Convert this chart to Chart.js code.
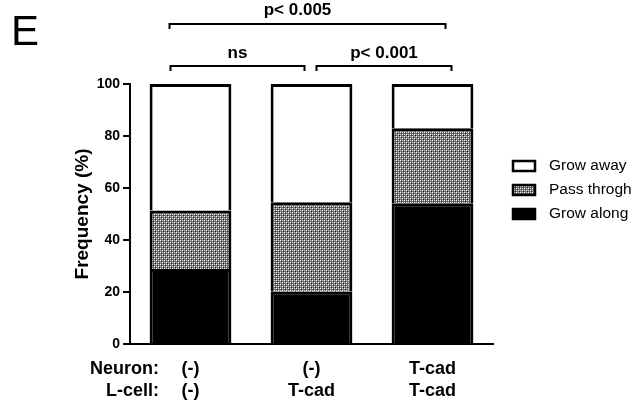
<!DOCTYPE html>
<html>
<head>
<meta charset="utf-8">
<script src="https://cdn.jsdelivr.net/npm/chart.js@4.4.0/dist/chart.umd.min.js"></script>
<style>
  html, body { margin: 0; padding: 0; background: #fff; }
  #wrap { width: 641px; height: 405px; position: relative; }
</style>
</head>
<body>
<div id="wrap"><canvas id="chart" width="641" height="405"></canvas></div>
<script>
// groups under each bar
const neuron = ['(-)', '(-)', 'T-cad'];
const lcell = ['(-)', 'T-cad', 'T-cad'];
// stacked segments (%), bottom to top
const growAlong = [28.8, 20.1, 54.1];
const passThrogh = [22.5, 34.4, 28.9];
const growAway = [48.7, 45.5, 17.0];
// significance brackets
const compFrom = [0, 0, 1];
const compTo = [2, 1, 2];
const compText = ['p< 0.005', 'ns', 'p< 0.001'];

const FONT = "'Liberation Sans', Arial, sans-serif";

// dotted grey fill for "Pass throgh"
function checker() {
  const c = document.createElement('canvas');
  c.width = 4; c.height = 4;
  const g = c.getContext('2d');
  g.fillStyle = '#707070'; g.fillRect(0, 0, 4, 4);
  g.fillStyle = '#fff'; g.fillRect(0, 0, 1, 1); g.fillRect(2, 2, 1, 1);
  g.fillStyle = '#d0d0d0'; g.fillRect(2, 0, 1, 1); g.fillRect(0, 2, 1, 1);
  g.fillStyle = '#222'; g.fillRect(1, 1, 1, 1); g.fillRect(3, 3, 1, 1);
  return g.createPattern(c, 'repeat');
}
const hatch = checker();

const segBorder = { top: 3, left: 3, right: 3, bottom: 0 };

// brackets, panel letter, row names, legend
const extras = {
  id: 'extras',
  afterDraw(chart) {
    const ctx = chart.ctx;
    const x = chart.scales.x;
    ctx.save();
    ctx.fillStyle = '#000';
    ctx.strokeStyle = '#000';

    ctx.font = '42px ' + FONT;
    ctx.textAlign = 'left';
    ctx.textBaseline = 'alphabetic';
    ctx.fillText('E', 11, 45);

    // bracket geometry: [left offset, right offset, y, text y]
    const geo = [[-21, 13, 24, 10], [-20, -7, 66, 53], [5, 19, 66, 53]];
    ctx.lineWidth = 2;
    ctx.font = 'bold 17px ' + FONT;
    ctx.textAlign = 'center';
    ctx.textBaseline = 'middle';
    compText.forEach((t, i) => {
      const x1 = x.getPixelForValue(compFrom[i]) + geo[i][0];
      const x2 = x.getPixelForValue(compTo[i]) + geo[i][1];
      const y = geo[i][2];
      ctx.beginPath();
      ctx.moveTo(x1, y + 5); ctx.lineTo(x1, y); ctx.lineTo(x2, y); ctx.lineTo(x2, y + 5);
      ctx.stroke();
      ctx.fillText(t, (x1 + x2) / 2 - (i === 0 ? 10 : 0), geo[i][3]);
    });

    // row names under the axis
    ctx.font = 'bold 18px ' + FONT;
    ctx.textAlign = 'right';
    ctx.fillText('Neuron:', 159, x.top + 25);
    ctx.fillText('L-cell:', 159, x.top + 47);

    // legend, top item = top segment
    const ds = chart.data.datasets.slice().reverse();
    ctx.font = '15.5px ' + FONT;
    ctx.textAlign = 'left';
    ds.forEach((d, i) => {
      const cy = 166 + i * 24;
      ctx.fillStyle = d.backgroundColor;
      ctx.fillRect(512, cy - 6, 24, 12);
      ctx.lineWidth = 2.5;
      ctx.strokeRect(513, cy - 5, 22, 10);
      ctx.fillStyle = '#000';
      ctx.fillText(d.label, 549, cy);
    });
    ctx.restore();
  }
};

new Chart(document.getElementById('chart'), {
  type: 'bar',
  data: {
    labels: neuron.map((n, i) => [n, lcell[i]]),
    datasets: [
      { label: 'Grow along', data: growAlong, backgroundColor: '#000', borderColor: '#000', borderWidth: segBorder, borderSkipped: false },
      { label: 'Pass throgh', data: passThrogh, backgroundColor: hatch, borderColor: '#000', borderWidth: segBorder, borderSkipped: false },
      { label: 'Grow away', data: growAway, backgroundColor: '#fff', borderColor: '#000', borderWidth: segBorder, borderSkipped: false }
    ]
  },
  options: {
    responsive: false,
    animation: false,
    barPercentage: 0.676,
    categoryPercentage: 1.0,
    layout: { padding: { top: 84, left: 67, right: 148, bottom: 0 } },
    plugins: { legend: { display: false }, tooltip: { enabled: false } },
    scales: {
      x: {
        stacked: true,
        grid: { display: false, drawTicks: false },
        border: { color: '#000', width: 2 },
        ticks: {
          color: '#000', padding: 14, maxRotation: 0, autoSkip: false,
          font: { family: FONT, size: 18, weight: 'bold', lineHeight: 1.222 }
        },
        afterFit: s => { s.height = 61; }
      },
      y: {
        stacked: true,
        min: 0, max: 100,
        grid: { display: true, drawOnChartArea: false, color: '#000', lineWidth: 2, tickLength: 7 },
        border: { color: '#000', width: 2 },
        ticks: { stepSize: 20, color: '#000', padding: 3, font: { family: FONT, size: 14, weight: 'bold' } },
        title: {
          display: true, text: 'Frequency (%)', color: '#000',
          padding: { top: 4, bottom: 0 },
          font: { family: FONT, size: 19, weight: 'bold' }
        },
        afterFit: s => { s.width = 63; }
      }
    }
  },
  plugins: [extras]
});
</script>
</body>
</html>
